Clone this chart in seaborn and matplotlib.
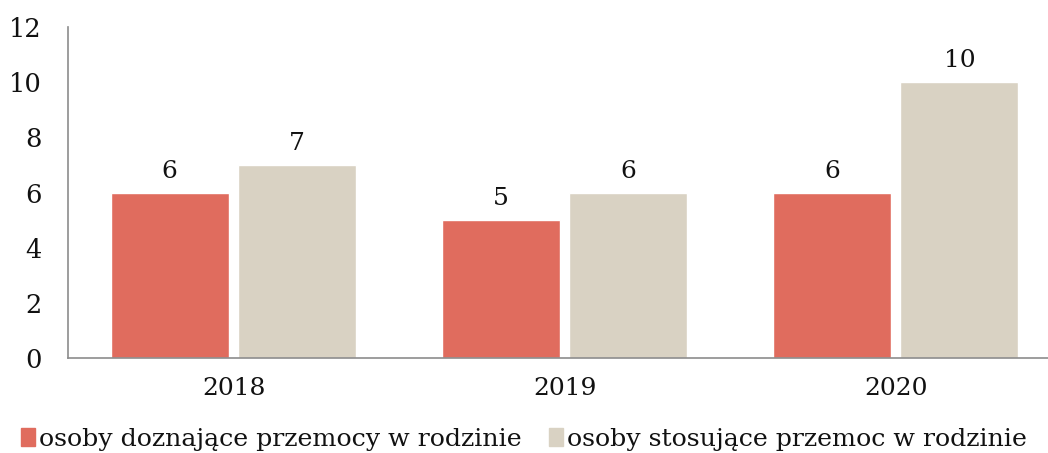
import matplotlib
matplotlib.use("Agg")
import matplotlib.pyplot as plt
import pandas as pd
import seaborn as sns

years = ["2018", "2019", "2020"]
series_names = ["osoby doznające przemocy w rodzinie", "osoby stosujące przemoc w rodzinie"]
victims = [6, 5, 6]
perpetrators = [7, 6, 10]
colors = ["#E06C5E", "#D9D2C3"]

df = pd.DataFrame({
    "Rok": years * 2,
    "Seria": [series_names[0]] * 3 + [series_names[1]] * 3,
    "Liczba": victims + perpetrators,
})

sns.set_theme(style="white")
plt.rcParams["font.family"] = ["DejaVu Serif"]

fig = plt.figure(figsize=(10.48, 4.53), dpi=100)
ax = fig.add_axes([68 / 1048, 1 - 358 / 453, 1 - 68 / 1048, (358 - 27) / 453])

sns.barplot(data=df, x="Rok", y="Liczba", hue="Seria", palette=colors, saturation=1,
            width=0.77, gap=0.075, ax=ax, legend=False)

for container in ax.containers:
    ax.bar_label(container, fmt="%g", padding=7, fontsize=18, color="#111111")

ax.set_ylim(0, 12)
ax.set_xlim(-0.5, 2.46)
ax.set_yticks(range(0, 13, 2))
ax.set_xlabel("")
ax.set_ylabel("")
ax.tick_params(axis="y", labelsize=18.5, pad=19, length=0, labelcolor="#111111")
ax.tick_params(axis="x", labelsize=18, pad=14, length=0, labelcolor="#111111")
for side in ["top", "right"]:
    ax.spines[side].set_visible(False)
for side in ["left", "bottom"]:
    ax.spines[side].set_color("#8C8C8C")
    ax.spines[side].set_linewidth(1.2)

handles = [plt.Rectangle((0, 0), 1, 1, color=c) for c in colors]
fig.legend(handles, series_names, loc="lower center", bbox_to_anchor=(0.5, -0.045),
           ncol=2, frameon=False, fontsize=18.2, handlelength=0.55, handleheight=0.75,
           handletextpad=0.15, columnspacing=1.1, labelcolor="#111111")

fig.savefig("out.png", dpi=100)
